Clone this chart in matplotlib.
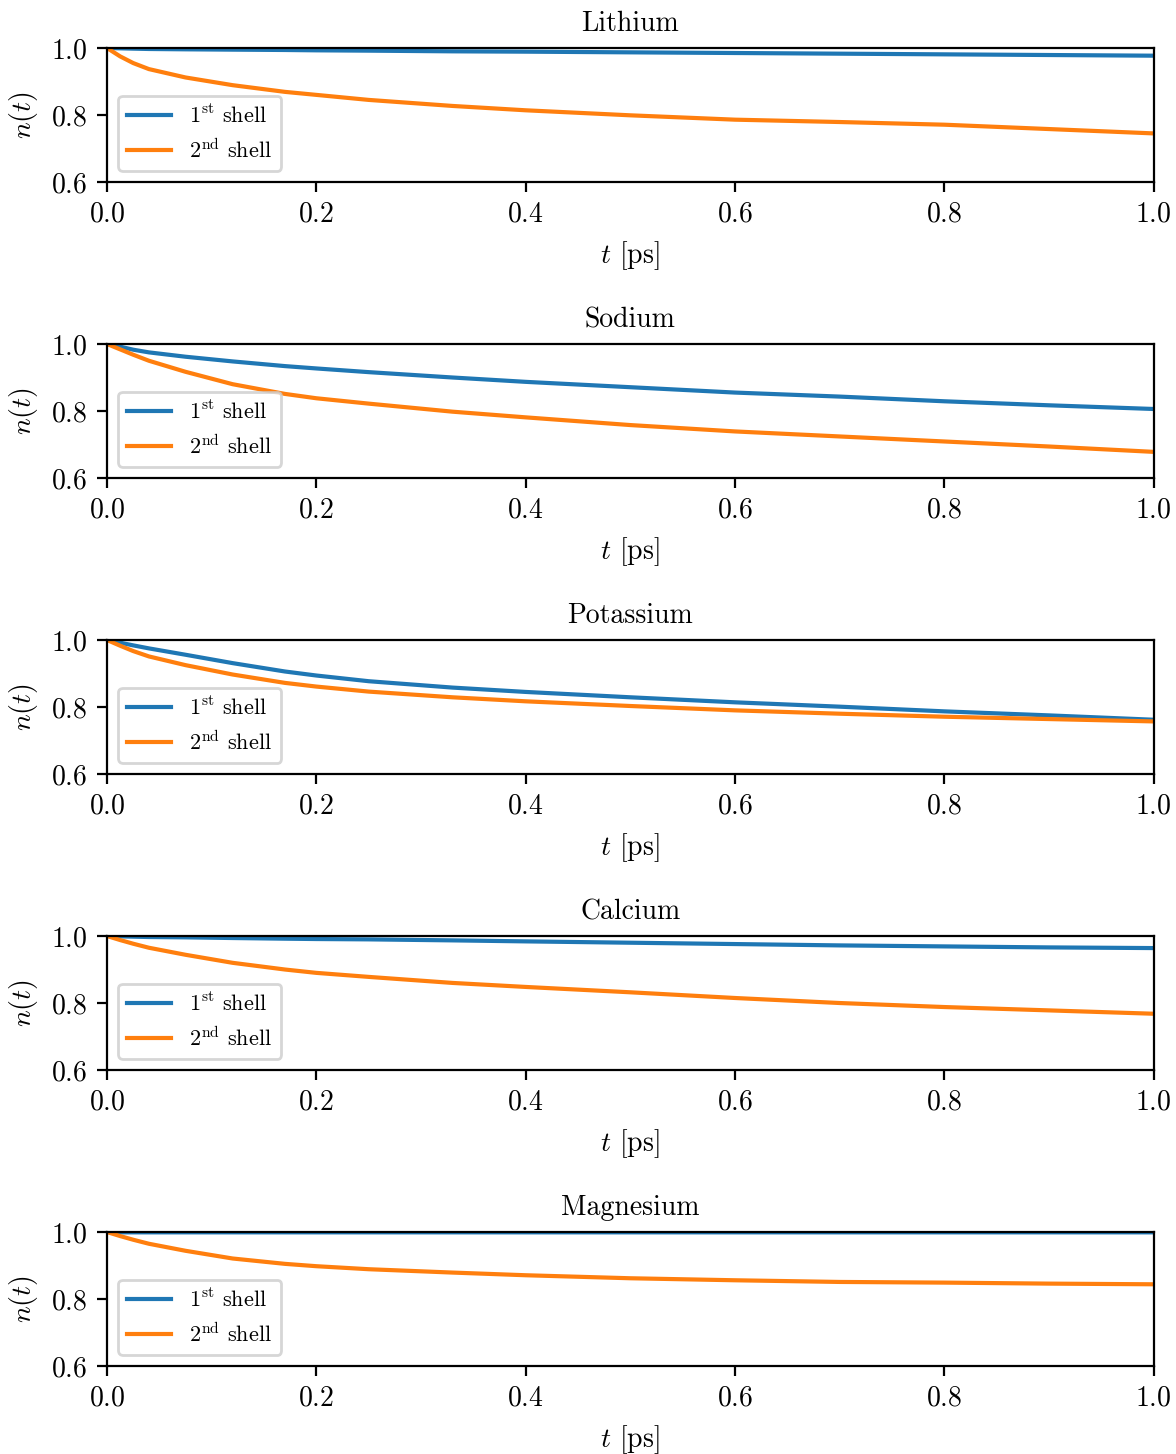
import matplotlib
matplotlib.use("Agg")
import matplotlib.pyplot as plt

plt.rcParams.update({
    "font.family": "serif",
    "font.serif": ["cmr10"],
    "mathtext.fontset": "cm",
    "axes.formatter.use_mathtext": True,
    "font.size": 10,
    "axes.titlesize": 10,
    "legend.fontsize": 8,
    "axes.unicode_minus": False,
})

# Time grid [ps]
t = [0.0, 0.0125, 0.025, 0.04, 0.075, 0.12, 0.17, 0.2, 0.25, 0.33,
     0.4, 0.5, 0.6, 0.7, 0.8, 0.9, 1.0]

elements = ["Lithium", "Sodium", "Potassium", "Calcium", "Magnesium"]

# Survival fraction n(t) of first-shell molecules
lithium_1st = [1.0, 0.999, 0.998, 0.997, 0.996, 0.995, 0.994, 0.993, 0.992,
               0.990, 0.989, 0.987, 0.985, 0.983, 0.981, 0.979, 0.977]
sodium_1st = [1.0, 0.992, 0.983, 0.975, 0.962, 0.948, 0.934, 0.927, 0.916,
              0.900, 0.887, 0.871, 0.855, 0.843, 0.829, 0.817, 0.806]
potassium_1st = [1.0, 0.992, 0.984, 0.975, 0.956, 0.931, 0.906, 0.894, 0.877,
                 0.858, 0.845, 0.829, 0.814, 0.801, 0.787, 0.775, 0.762]
calcium_1st = [1.0, 0.999, 0.998, 0.997, 0.996, 0.994, 0.992, 0.991, 0.990,
               0.987, 0.984, 0.980, 0.976, 0.972, 0.969, 0.966, 0.964]
magnesium_1st = [1.0, 0.999, 0.999, 0.999, 0.999, 0.999, 0.999, 0.999, 0.999,
                 0.999, 0.999, 0.999, 0.999, 0.999, 0.999, 0.999, 0.999]

# Survival fraction n(t) of second-shell molecules
lithium_2nd = [1.0, 0.975, 0.955, 0.937, 0.912, 0.889, 0.869, 0.860, 0.845,
               0.827, 0.814, 0.799, 0.786, 0.779, 0.771, 0.758, 0.745]
sodium_2nd = [1.0, 0.984, 0.968, 0.950, 0.917, 0.880, 0.851, 0.838, 0.822,
              0.798, 0.781, 0.758, 0.739, 0.724, 0.709, 0.694, 0.678]
potassium_2nd = [1.0, 0.983, 0.967, 0.951, 0.925, 0.897, 0.872, 0.861, 0.846,
                 0.829, 0.817, 0.803, 0.790, 0.780, 0.771, 0.764, 0.757]
calcium_2nd = [1.0, 0.988, 0.977, 0.965, 0.944, 0.920, 0.900, 0.890, 0.878,
               0.860, 0.848, 0.832, 0.815, 0.800, 0.788, 0.778, 0.768]
magnesium_2nd = [1.0, 0.988, 0.977, 0.965, 0.944, 0.921, 0.905, 0.898, 0.889,
                 0.879, 0.871, 0.862, 0.856, 0.851, 0.849, 0.846, 0.844]

first_shell = [lithium_1st, sodium_1st, potassium_1st, calcium_1st, magnesium_1st]
second_shell = [lithium_2nd, sodium_2nd, potassium_2nd, calcium_2nd, magnesium_2nd]

x_ticks = [0.0, 0.2, 0.4, 0.6, 0.8, 1.0]
y_ticks = [0.6, 0.8, 1.0]

fig, axes = plt.subplots(5, 1, figsize=(5.88, 7.27), dpi=200)
fig.subplots_adjust(left=0.091, right=0.981, top=0.967, bottom=0.0605,
                    hspace=1.209)

for ax, name, n1, n2 in zip(axes, elements, first_shell, second_shell):
    ax.plot(t, n1, color="#1f77b4", lw=1.5, label=r"$1^{\rm st}$ shell")
    ax.plot(t, n2, color="#ff7f0e", lw=1.5, label=r"$2^{\rm nd}$ shell")
    ax.set_xlim(0, 1)
    ax.set_ylim(0.6, 1.0)
    ax.set_xticks(x_ticks)
    ax.set_yticks(y_ticks)
    ax.set_title(name)
    ax.set_xlabel(r"$t$ [ps]")
    ax.set_ylabel(r"$n(t)$")
    ax.legend(loc="lower left")

fig.savefig("out.png", dpi=200)
